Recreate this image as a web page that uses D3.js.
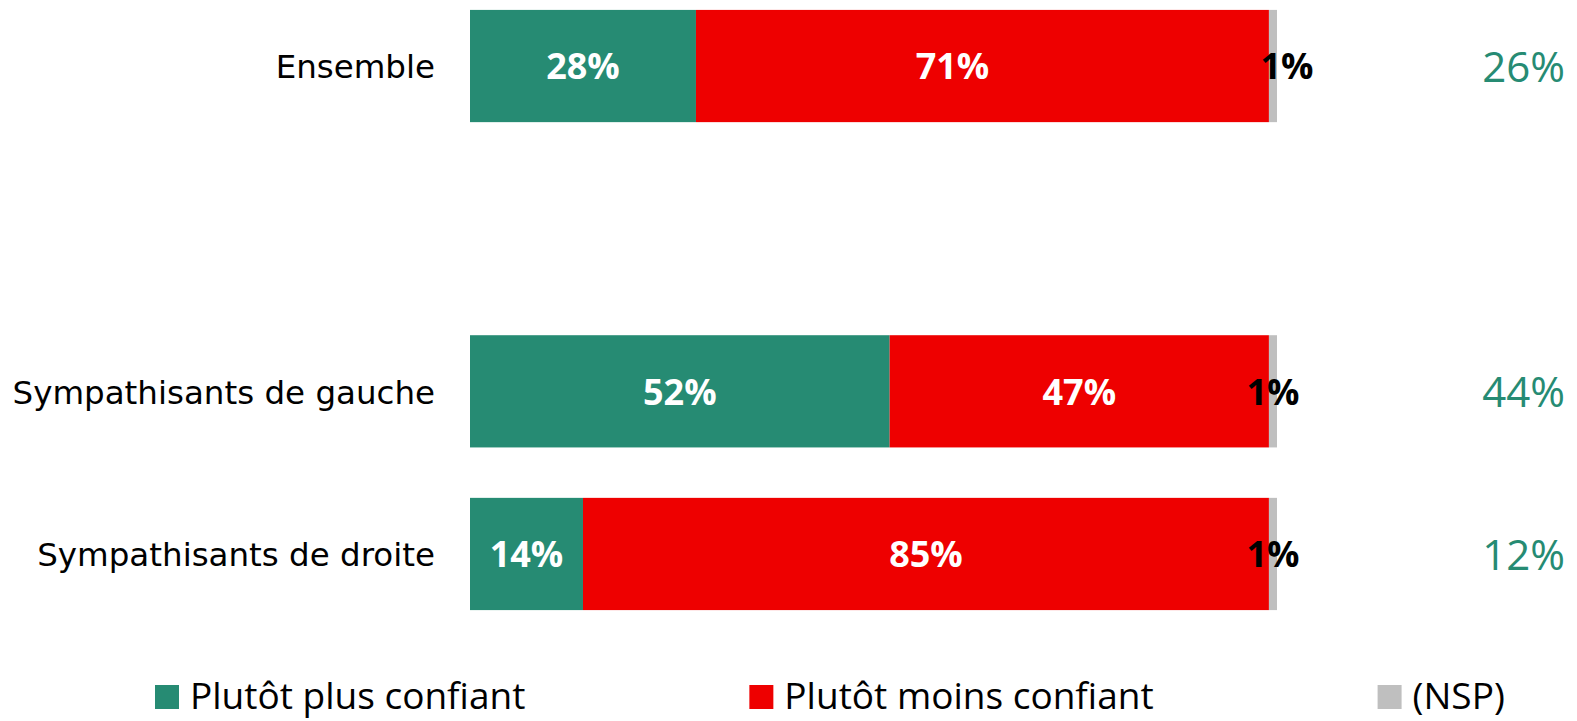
<!DOCTYPE html>
<html>
<head>
<meta charset="utf-8">
<script src="https://cdn.jsdelivr.net/npm/d3@7/dist/d3.min.js"></script>
<style>
  body { margin: 0; background: #fff; }
</style>
</head>
<body>
<div id="chart"></div>
<script>
// rows of the chart ('' is the empty gap row)
var categories = ['Ensemble', '', 'Sympathisants de gauche', 'Sympathisants de droite'];
var series = ['Plutôt plus confiant', 'Plutôt moins confiant', '(NSP)'];
var plusValues = [28, null, 52, 14];
var moinsValues = [71, null, 47, 85];
var nspValues = [1, null, 1, 1];
var sideValues = [26, null, 44, 12];

var colors = ['#268b73', '#ee0000', '#bfbfbf'];
var labelColors = ['#ffffff', '#ffffff', '#000000'];

var width = 1577, height = 721;

// labels moved by hand in the original (px, per series)
var labelNudge = { 'Ensemble': [0, -30, 14] };

var svg = d3.select('#chart')
	.append('svg')
	.attr('width', width)
	.attr('height', height);

var x = d3.scaleLinear()
	.domain([0, 100])
	.range([470, 1277]);

var y = d3.scaleBand()
	.domain(categories)
	.range([-15.3, 635.3])
	.paddingInner(0.31)
	.paddingOuter(0.155);

// stack the three series per row
var rows = categories.map(function (c, i) {
	return { cat: c, vals: [plusValues[i], moinsValues[i], nspValues[i]], side: sideValues[i] };
}).filter(function (r) { return r.cat !== ''; });

var segs = [];
rows.forEach(function (r) {
	var acc = 0;
	r.vals.forEach(function (v, k) {
		segs.push({ cat: r.cat, k: k, v: v, x0: acc, x1: acc + v });
		acc += v;
	});
});

svg.selectAll('.seg')
	.data(segs)
	.enter()
	.append('rect')
	.attr('class', 'seg')
	.attr('x', function (d) { return x(d.x0); })
	.attr('width', function (d) { return x(d.x1) - x(d.x0); })
	.attr('y', function (d) { return y(d.cat); })
	.attr('height', y.bandwidth())
	.attr('fill', function (d) { return colors[d.k]; });

svg.selectAll('.seg_text')
	.data(segs)
	.enter()
	.append('text')
	.attr('class', 'seg_text')
	.attr('x', function (d) {
		var n = labelNudge[d.cat] ? labelNudge[d.cat][d.k] : 0;
		return (x(d.x0) + x(d.x1)) / 2 + n;
	})
	.attr('y', function (d) { return y(d.cat) + y.bandwidth() / 2; })
	.attr('dy', '0.37em')
	.attr('text-anchor', 'middle')
	.attr('font-family', '"Open Sans", sans-serif')
	.attr('font-weight', 'bold')
	.attr('font-size', '36px')
	.attr('fill', function (d) { return labelColors[d.k]; })
	.text(function (d) { return d.v + '%'; });

// category labels
svg.selectAll('.cat_text')
	.data(rows)
	.enter()
	.append('text')
	.attr('class', 'cat_text')
	.attr('x', 435)
	.attr('y', function (d) { return y(d.cat) + y.bandwidth() / 2; })
	.attr('dy', '0.38em')
	.attr('text-anchor', 'end')
	.attr('font-family', '"DejaVu Sans", sans-serif')
	.attr('font-size', '32.5px')
	.attr('fill', '#000')
	.text(function (d) { return d.cat; });

// values on the right
svg.selectAll('.side_text')
	.data(rows)
	.enter()
	.append('text')
	.attr('class', 'side_text')
	.attr('x', 1565)
	.attr('y', function (d) { return y(d.cat) + y.bandwidth() / 2; })
	.attr('dy', '0.38em')
	.attr('text-anchor', 'end')
	.attr('font-family', '"Open Sans", sans-serif')
	.attr('font-size', '42px')
	.attr('fill', colors[0])
	.text(function (d) { return d.side + '%'; });

// legend
var legend = svg.append('g').attr('class', 'legend');
var lx = 155;
series.forEach(function (s, k) {
	var g = legend.append('g');
	g.append('rect')
		.attr('x', lx)
		.attr('y', 685)
		.attr('width', 24)
		.attr('height', 24)
		.attr('fill', colors[k]);
	var t = g.append('text')
		.attr('x', lx + 35)
		.attr('y', 709)
		.attr('font-family', '"Open Sans", sans-serif')
		.attr('font-size', '37px')
		.attr('fill', '#000')
		.text(s);
	lx = lx + 35 + t.node().getComputedTextLength() + 224;
});
</script>
</body>
</html>
